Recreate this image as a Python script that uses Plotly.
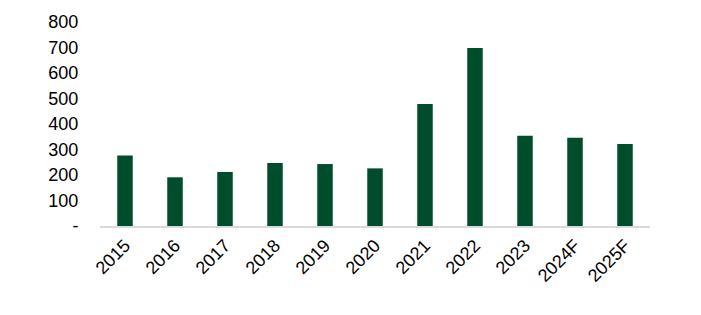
import plotly.graph_objects as go

categories = ["2015", "2016", "2017", "2018", "2019", "2020", "2021", "2022", "2023", "2024F", "2025F"]
values = [276, 191, 212, 247, 243, 226, 478, 698, 354, 346, 322]
y_tick_vals = [0, 100, 200, 300, 400, 500, 600, 700, 800]
y_tick_text = ["-", "100", "200", "300", "400", "500", "600", "700", "800"]

fig = go.Figure(go.Bar(x=categories, y=values, marker_color="#004D2C", marker_line_width=0))

fig.update_layout(
    width=701, height=315,
    margin=dict(l=100, r=51, t=18, b=89),
    paper_bgcolor="white", plot_bgcolor="white",
    bargap=0.69,
    showlegend=False,
    font=dict(family="Liberation Sans, Arial, sans-serif", size=18, color="#000000"),
)
fig.update_xaxes(
    showline=True, linecolor="#D9D9D9", linewidth=2,
    showgrid=False, tickangle=-45, ticks="",
    tickfont=dict(size=18),
)
fig.update_yaxes(
    range=[0, 800], tickvals=y_tick_vals, ticktext=y_tick_text,
    showgrid=False, zeroline=False, showline=False,
    ticks="outside", ticklen=17, tickcolor="rgba(0,0,0,0)",
    tickfont=dict(size=18),
)

fig.write_html("out.html")
